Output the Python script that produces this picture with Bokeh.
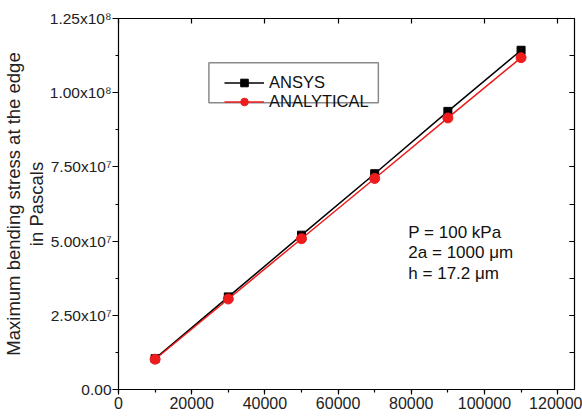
from bokeh.plotting import figure
from bokeh.models import (Legend, LegendItem, Label, BoxAnnotation, LinearAxis,
                          SingleIntervalTicker, Range1d, BasicTickFormatter,
                          CustomJSTickFormatter, Title)
from bokeh.embed import file_html
from bokeh.resources import INLINE

# ---------------- data ----------------
load = [10000, 30000, 50000, 70000, 90000, 110000]
ansys = [1.04e7, 3.12e7, 5.20e7, 7.27e7, 9.37e7, 1.143e8]
analytical = [1.02e7, 3.05e7, 5.08e7, 7.11e7, 9.15e7, 1.118e8]

series_names = ["ANSYS", "ANALYTICAL"]
y_ticks = [0, 2.5e7, 5.0e7, 7.5e7, 1.0e8, 1.25e8]
y_tick_labels = ["0.00", "2.50x10\u2077", "5.00x10\u2077", "7.50x10\u2077",
                 "1.00x10\u2078", "1.25x10\u2078"]
y_label_lines = ["Maximum bending stress at the edge", "in Pascals"]
notes = ["P = 100 kPa", "2a = 1000 \u03bcm", "h = 17.2 \u03bcm"]

FONT = "Liberation Sans"
RED = "#ee1c1c"

p = figure(width=582, height=416,
           x_range=Range1d(0, 124600), y_range=Range1d(0, 1.25e8),
           output_backend="svg", toolbar_location=None,
           min_border_left=116, min_border_right=8,
           min_border_top=18, min_border_bottom=27)
p.grid.visible = False
p.outline_line_color = None
p.background_fill_color = "white"
p.border_fill_color = "white"

# bottom axis
xa = p.xaxis[0]
xa.ticker = SingleIntervalTicker(interval=20000, num_minor_ticks=2)
xa.formatter = BasicTickFormatter(use_scientific=False)
xa.major_tick_in = 0
xa.major_tick_out = 5
xa.minor_tick_in = 0
xa.minor_tick_out = 3
xa.major_label_standoff = 2
xa.major_label_text_font = FONT
xa.major_label_text_font_size = "16px"
xa.major_label_text_color = "#222222"
xa.axis_line_width = 1.2
xa.major_tick_line_width = 1.2
xa.minor_tick_line_width = 1.2

# left axis
ya = p.yaxis[0]
ya.ticker = SingleIntervalTicker(interval=2.5e7, num_minor_ticks=2)
ya.major_label_overrides = {t: s for t, s in zip(y_ticks, y_tick_labels)}
ya.major_tick_in = 0
ya.major_tick_out = 6
ya.minor_tick_in = 0
ya.minor_tick_out = 3
ya.major_label_standoff = 1
ya.major_label_text_font = FONT
ya.major_label_text_font_size = "15.5px"
ya.major_label_text_color = "#222222"
ya.axis_line_width = 1.2
ya.major_tick_line_width = 1.2
ya.minor_tick_line_width = 1.2

# y-axis title as two stacked left titles (inner line first)
for txt in reversed(y_label_lines):
    p.add_layout(Title(text=txt, align="center", standoff=0,
                       text_font=FONT, text_font_size="18.5px",
                       text_font_style="normal", text_color="#222222"), "left")

# top & right axes (ticks only, empty labels)
blank = CustomJSTickFormatter(code="return ''")
top = LinearAxis(ticker=SingleIntervalTicker(interval=20000, num_minor_ticks=2),
                 formatter=blank, major_label_text_font_size="1px", major_label_standoff=0,
                 major_tick_in=5, major_tick_out=0, minor_tick_line_color=None,
                 axis_line_width=1.2, major_tick_line_width=1.2)
right = LinearAxis(ticker=SingleIntervalTicker(interval=2.5e7, num_minor_ticks=2),
                   formatter=blank, major_label_text_font_size="1px", major_label_standoff=0,
                   major_tick_in=5, major_tick_out=0, minor_tick_in=5, minor_tick_out=0,
                   axis_line_width=1.2, major_tick_line_width=1.2, minor_tick_line_width=1.2)
p.add_layout(top, "above")
p.add_layout(right, "right")

# series
l1 = p.line(load, ansys, line_color="black", line_width=1.5)
s1 = p.scatter(load, ansys, marker="square", size=8, fill_color="black", line_color="black")
l2 = p.line(load, analytical, line_color=RED, line_width=1.5)
s2 = p.scatter(load, analytical, marker="circle", size=10, fill_color=RED, line_color=RED)

# legend
box = BoxAnnotation(left=24700, right=71000, bottom=9.66e7, top=1.101e8,
                    fill_color=None, line_color="#8a8a8a", line_width=1.5, line_alpha=1)
p.add_layout(box)
legend = Legend(items=[LegendItem(label=series_names[0], renderers=[l1, s1]),
                       LegendItem(label=series_names[1], renderers=[l2, s2])],
                location=(106, 278), padding=0, spacing=0, margin=0,
                glyph_width=40, glyph_height=19, label_height=19, label_standoff=5,
                label_text_font=FONT, label_text_font_size="16.5px",
                label_text_color="#111111",
                border_line_color=None, background_fill_alpha=0)
p.add_layout(legend)

# notes
note_y = [5.30e7, 4.62e7, 3.92e7]
for txt, yy in zip(notes, note_y):
    p.add_layout(Label(x=79200, y=yy, text=txt, text_font=FONT, text_font_size="17px",
                       text_baseline="middle", text_align="left", text_color="#111111"))

open("out.html", "w").write(file_html(p, INLINE))
